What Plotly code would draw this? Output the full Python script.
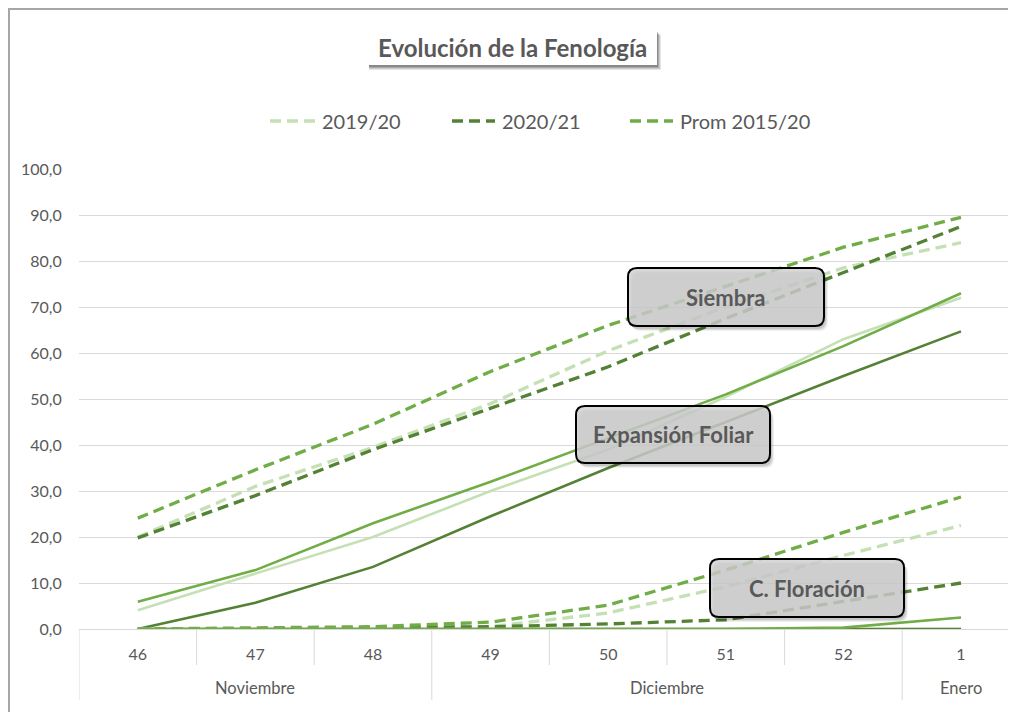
import plotly.graph_objects as go

# ---------------- data ----------------
weeks = ["46", "47", "48", "49", "50", "51", "52", "1"]
months = ["Noviembre", "Diciembre", "Enero"]
month_span = [(0, 2), (3, 6), (7, 7)]          # index ranges of weeks per month
y_ticks = [0, 10, 20, 30, 40, 50, 60, 70, 80, 90, 100]

series_names = ["2019/20", "2020/21", "Prom 2015/20"]

siembra_1920 = [20.0, 31.0, 39.5, 49.0, 60.5, 70.0, 78.5, 84.0]
siembra_2021 = [19.8, 29.0, 39.0, 48.0, 57.0, 67.5, 77.5, 87.5]
siembra_prom = [24.1, 34.6, 44.5, 56.0, 66.0, 74.5, 83.0, 89.5]

exp_1920 = [4.1, 12.0, 20.0, 30.0, 39.0, 50.5, 63.0, 72.0]
exp_2021 = [0.0, 5.7, 13.5, 24.5, 35.0, 45.0, 55.0, 64.7]
exp_prom = [5.9, 12.8, 23.0, 32.0, 41.5, 51.0, 61.5, 73.0]

flor_1920 = [0.0, 0.0, 0.2, 0.5, 3.5, 9.2, 16.0, 22.5]
flor_2021 = [0.0, 0.0, 0.3, 0.5, 1.1, 2.0, 6.0, 10.0]
flor_prom = [0.0, 0.2, 0.5, 1.5, 5.2, 12.8, 21.0, 28.7]

mad_1920 = [0.0, 0.0, 0.0, 0.0, 0.0, 0.0, 0.0, 0.0]
mad_2021 = [0.0, 0.0, 0.0, 0.0, 0.0, 0.0, 0.0, 0.0]
mad_prom = [0.0, 0.0, 0.0, 0.0, 0.0, 0.0, 0.3, 2.5]

stage_labels = ["Siembra", "Expansión Foliar", "C. Floración"]
title_text = "Evolución de la Fenología"

# ---------------- styling ----------------
OFF = 8                      # page body margin
W, H = 1016 - OFF, 712 - OFF
L, T = 79 - OFF, 169 - OFF
B = H - (629 - OFF)
R = 0
PW, PH = W - L - R, H - T - B
colors = ["#C5E0B4", "#548235", "#70AD47"]
txt = "#595959"
grid = "#D9D9D9"
FONT = "Lato"
DASH = "11px,6px"


def px2x(sx):
    return (sx - OFF - L) / PW


def px2y(sy):
    return (H - B - (sy - OFF)) / PH


fig = go.Figure()

groups = [
    (siembra_1920, siembra_2021, siembra_prom, DASH, 3.3),
    (exp_1920, exp_2021, exp_prom, "solid", 2.6),
    (flor_1920, flor_2021, flor_prom, DASH, 3.3),
    (mad_1920, mad_2021, mad_prom, "solid", 2.6),
]
for gi, (a, b, c, dash, w) in enumerate(groups):
    for si, vals in enumerate([a, b, c]):
        fig.add_trace(go.Scatter(
            x=weeks, y=vals, mode="lines",
            name=series_names[si], legendgroup=series_names[si],
            showlegend=False,
            line=dict(color=colors[si], width=w, dash=dash),
            hoverinfo="skip",
        ))

n = len(weeks)
shapes = []
# category dividers under the axis
long_b = [s - 0.5 for (s, _) in month_span]
for i in range(n):
    xb = i - 0.5
    long = any(abs(xb - lb) < 1e-9 for lb in long_b)
    shapes.append(dict(type="line", xref="x", yref="paper", x0=xb, x1=xb,
                       y0=0, y1=px2y(700 if long else 665),
                       line=dict(color=grid, width=1), layer="below"))

# outer chart border (top/left visible)
shapes.append(dict(type="rect", xref="paper", yref="paper",
                   x0=px2x(9), x1=px2x(1040), y0=px2y(9), y1=px2y(740),
                   line=dict(color="#A6A6A6", width=2), fillcolor="rgba(0,0,0,0)"))


def rrect(x0, y0, x1, y1, r):
    rx, ry = r / PW, r / PH
    X0, X1 = px2x(x0), px2x(x1)
    Yt, Yb = px2y(y0), px2y(y1)
    return (f"M {X0+rx},{Yt} L {X1-rx},{Yt} Q {X1},{Yt} {X1},{Yt-ry} "
            f"L {X1},{Yb+ry} Q {X1},{Yb} {X1-rx},{Yb} L {X0+rx},{Yb} "
            f"Q {X0},{Yb} {X0},{Yb+ry} L {X0},{Yt-ry} Q {X0},{Yt} {X0+rx},{Yt} Z")


# title box with shadow
tb = (368, 30, 657, 65)
for k, op in [(5, 0.10), (4, 0.12), (3, 0.15), (2, 0.2)]:
    shapes.append(dict(type="rect", xref="paper", yref="paper",
                       x0=px2x(tb[0] + 1), x1=px2x(tb[2] + k - 1),
                       y0=px2y(tb[1] + k), y1=px2y(tb[3] + k),
                       line=dict(width=0), fillcolor=f"rgba(0,0,0,{op})"))
shapes.append(dict(type="rect", xref="paper", yref="paper",
                   x0=px2x(tb[0]), x1=px2x(tb[2]), y0=px2y(tb[1]), y1=px2y(tb[3]),
                   line=dict(width=0), fillcolor="white"))

boxes = [(628, 268, 824, 326), (576, 406, 770, 463), (710, 559, 904, 617)]
for (x0, y0, x1, y1) in boxes:
    for k, op in [(5, 0.06), (4, 0.08), (3, 0.1)]:
        shapes.append(dict(type="path", xref="paper", yref="paper",
                           path=rrect(x0 + k - 1, y0 + k, x1 + k - 1, y1 + k, 9),
                           line=dict(width=0), fillcolor=f"rgba(0,0,0,{op})",
                           layer="above"))
    shapes.append(dict(type="path", xref="paper", yref="paper",
                       path=rrect(x0, y0, x1, y1, 9),
                       line=dict(color="black", width=2),
                       fillcolor="rgba(208,208,208,0.82)", layer="above"))

annotations = []
annotations.append(dict(text=f"<b>{title_text}</b>", xref="paper", yref="paper",
                        x=px2x((tb[0] + tb[2]) / 2), y=px2y((tb[1] + tb[3]) / 2),
                        showarrow=False, font=dict(family=FONT, size=24, color=txt),
                        xanchor="center", yanchor="middle"))
for lab, (x0, y0, x1, y1) in zip(stage_labels, boxes):
    annotations.append(dict(text=f"<b>{lab}</b>", xref="paper", yref="paper",
                            x=px2x((x0 + x1) / 2), y=px2y((y0 + y1) / 2),
                            showarrow=False, font=dict(family=FONT, size=22, color=txt),
                            xanchor="center", yanchor="middle"))
for m, (s, e) in zip(months, month_span):
    annotations.append(dict(text=m, xref="x", yref="paper", x=(s + e) / 2,
                            y=px2y(688), showarrow=False,
                            font=dict(family=FONT, size=16.5, color=txt),
                            xanchor="center", yanchor="middle"))

# legend (drawn manually to match long dashed keys)
leg_sym = [(270, 315), (452, 495), (630, 673)]
leg_y = 121
for name, col, (lx0, lx1) in zip(series_names, colors, leg_sym):
    shapes.append(dict(type="line", xref="paper", yref="paper",
                       x0=px2x(lx0), x1=px2x(lx1), y0=px2y(leg_y), y1=px2y(leg_y),
                       line=dict(color=col, width=3.5, dash=DASH)))
    annotations.append(dict(text=name, xref="paper", yref="paper",
                            x=px2x(lx1 + 5), y=px2y(leg_y), showarrow=False,
                            xanchor="left", yanchor="middle",
                            font=dict(family=FONT, size=20, color=txt)))

fig.update_layout(
    width=W, height=H,
    margin=dict(l=L, r=R, t=T, b=B, pad=0),
    paper_bgcolor="white", plot_bgcolor="white",
    separators=",.",
    showlegend=False,
    xaxis=dict(type="category", range=[-0.5, -0.5 + PW / 117.6],
               showgrid=False, zeroline=False,
               showline=True, linecolor=grid, linewidth=1,
               ticks="outside", ticklen=11, tickcolor="rgba(0,0,0,0)",
               tickfont=dict(family=FONT, size=16, color=txt)),
    yaxis=dict(range=[0, 100], tickvals=y_ticks, tickformat=".1f",
               showgrid=True, gridcolor=grid, gridwidth=1,
               zeroline=False, showline=False,
               ticks="outside", ticklen=13, tickcolor="rgba(0,0,0,0)",
               tickfont=dict(family=FONT, size=16, color=txt)),
    shapes=shapes, annotations=annotations,
)

fig.write_html("out.html")
